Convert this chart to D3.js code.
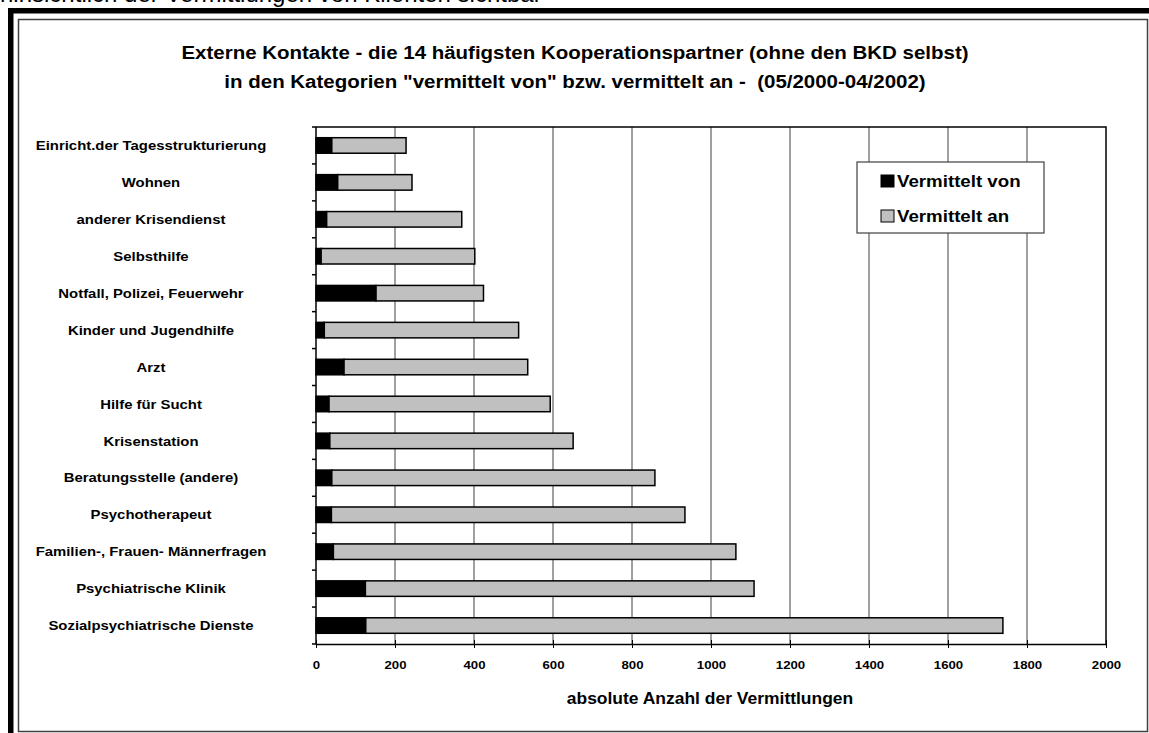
<!DOCTYPE html>
<html>
<head>
<meta charset="utf-8">
<script src="https://cdn.jsdelivr.net/npm/d3@7"></script>
<style>
  body { margin: 0; background: #fff; }
  svg { display: block; font-family: "Liberation Sans", Arial, sans-serif; }
</style>
</head>
<body>
<svg id="chart" width="1149" height="733"></svg>
<script>
// categories top to bottom, as in the picture
const categories = [
  "Einricht.der Tagesstrukturierung",
  "Wohnen",
  "anderer Krisendienst",
  "Selbsthilfe",
  "Notfall, Polizei, Feuerwehr",
  "Kinder und Jugendhilfe",
  "Arzt",
  "Hilfe für Sucht",
  "Krisenstation",
  "Beratungsstelle (andere)",
  "Psychotherapeut",
  "Familien-, Frauen- Männerfragen",
  "Psychiatrische Klinik",
  "Sozialpsychiatrische Dienste"
]
const vermitteltVon = [40, 55, 27, 13, 152, 21, 71, 33, 35, 40, 39, 44, 125, 126]
const vermitteltAn = [188, 188, 342, 389, 272, 492, 465, 560, 616, 818, 895, 1019, 984, 1613]
const seriesNames = ["Vermittelt von", "Vermittelt an"]
const seriesColors = ["#000000", "#c0c0c0"]
const xTicks = [0, 200, 400, 600, 800, 1000, 1200, 1400, 1600, 1800, 2000]

const titleLines = [
  "Externe Kontakte - die 14 häufigsten Kooperationspartner (ohne den BKD selbst)",
  "in den Kategorien \"vermittelt von\" bzw. vermittelt an -  (05/2000-04/2002)"
]
const xTitle = "absolute Anzahl der Vermittlungen"
const pageText = "hinsichtlich der Vermittlungen von Klienten sichtbar"

// the chart text in the picture is a little wider than plain Arial
const SX = 1.12
const place = (px, py) => `translate(${px},${py}) scale(${SX},1)`

const svg = d3.select("#chart")

// text of the page above the picture, cut off by the top edge
svg.append("text")
  .attr("x", 0).attr("y", 2)
  .attr("font-size", 24)
  .attr("fill", "#000")
  .text(pageText)

// heavy black frame (top and left) and the thin chart border
svg.append("rect").attr("x", 8).attr("y", 8).attr("width", 1141).attr("height", 5.5).attr("fill", "#000")
svg.append("rect").attr("x", 8).attr("y", 8).attr("width", 5.5).attr("height", 725).attr("fill", "#000")
svg.append("rect")
  .attr("x", 18.5).attr("y", 19.5)
  .attr("width", 1129).attr("height", 712)
  .attr("fill", "#fff")
  .attr("stroke", "#404040")
  .attr("stroke-width", 1.5)

const margin = { left: 316, right: 1106, top: 127, bottom: 644 }

const x = d3.scaleLinear().domain([0, 2000]).range([margin.left, margin.right])
const y = d3.scaleBand().domain(categories).range([margin.top, margin.bottom]).paddingInner(0.58).paddingOuter(0.29)

// title
svg.append("g").selectAll("text")
  .data(titleLines)
  .enter().append("text")
  .attr("transform", (d, i) => place(575, 58.5 + i * 29))
  .attr("text-anchor", "middle")
  .attr("font-size", 18.3)
  .attr("font-weight", "bold")
  .style("white-space", "pre")
  .text(d => d)

// vertical gridlines
svg.append("g")
  .selectAll("line")
  .data(xTicks.slice(1, -1))
  .enter().append("line")
  .attr("x1", d => x(d)).attr("x2", d => x(d))
  .attr("y1", margin.top).attr("y2", margin.bottom)
  .attr("stroke", "#404040")
  .attr("stroke-width", 1)

// plot border top and right
svg.append("path")
  .attr("d", `M${margin.left},${margin.top}H${margin.right}V${margin.bottom}`)
  .attr("fill", "none")
  .attr("stroke", "#000")
  .attr("stroke-width", 1.5)

// stacked bars
const rows = categories.map((c, i) => ({ cat: c, von: vermitteltVon[i], an: vermitteltAn[i] }))
const stack = d3.stack().keys(["von", "an"])(rows)

svg.append("g")
  .selectAll("g")
  .data(stack)
  .enter().append("g")
  .attr("fill", (d, i) => seriesColors[i])
  .selectAll("rect")
  .data(d => d)
  .enter().append("rect")
  .attr("x", d => x(d[0]))
  .attr("y", d => y(d.data.cat))
  .attr("width", d => x(d[1]) - x(d[0]))
  .attr("height", y.bandwidth())
  .attr("stroke", "#000")
  .attr("stroke-width", 1.5)

// category axis: line, ticks at band boundaries, centred labels
const bounds = d3.range(categories.length + 1).map(i => margin.top + i * y.step())
const yAxis = svg.append("g")
yAxis.append("line")
  .attr("x1", margin.left).attr("x2", margin.left)
  .attr("y1", margin.top).attr("y2", margin.bottom)
  .attr("stroke", "#000").attr("stroke-width", 1.5)
yAxis.selectAll(".tick")
  .data(bounds)
  .enter().append("line")
  .attr("x1", margin.left - 4).attr("x2", margin.left)
  .attr("y1", d => d).attr("y2", d => d)
  .attr("stroke", "#000").attr("stroke-width", 1.5)
yAxis.selectAll("text")
  .data(categories)
  .enter().append("text")
  .attr("transform", d => place(151, y(d) + y.bandwidth() / 2))
  .attr("dy", "0.35em")
  .attr("text-anchor", "middle")
  .attr("font-size", 13.3)
  .attr("font-weight", "bold")
  .text(d => d)

// value axis
const xAxis = svg.append("g")
  .attr("transform", `translate(0,${margin.bottom})`)
  .call(d3.axisBottom(x).tickValues(xTicks).tickFormat(d3.format("d"))
    .tickSizeInner(4).tickSizeOuter(0).tickPadding(13))
xAxis.select(".domain").attr("stroke", "#000").attr("stroke-width", 1.5)
xAxis.selectAll(".tick line")
  .attr("y1", -4)
  .attr("stroke", "#000").attr("stroke-width", 1)
xAxis.selectAll(".tick text")
  .attr("transform", `scale(${SX},1)`)
  .attr("font-family", "Liberation Sans, Arial, sans-serif")
  .attr("font-size", 11.8)
  .attr("font-weight", "bold")
  .attr("fill", "#000")

svg.append("text")
  .attr("transform", place(710, 703.5))
  .attr("text-anchor", "middle")
  .attr("font-size", 15.6)
  .attr("font-weight", "bold")
  .text(xTitle)

// legend
const legend = svg.append("g").attr("transform", "translate(857,162)")
legend.append("rect")
  .attr("width", 187).attr("height", 71)
  .attr("fill", "#fff")
  .attr("stroke", "#404040").attr("stroke-width", 1.2)
const items = legend.selectAll(".item")
  .data(seriesNames)
  .enter().append("g")
  .attr("transform", (d, i) => `translate(24,${19 + i * 35})`)
items.append("rect")
  .attr("x", 0).attr("y", -6)
  .attr("width", 13).attr("height", 12)
  .attr("fill", (d, i) => seriesColors[i])
  .attr("stroke", "#000").attr("stroke-width", 1)
items.append("text")
  .attr("transform", place(16, 0))
  .attr("dy", "0.36em")
  .attr("font-size", 16.7)
  .attr("font-weight", "bold")
  .text(d => d)
</script>
</body>
</html>
